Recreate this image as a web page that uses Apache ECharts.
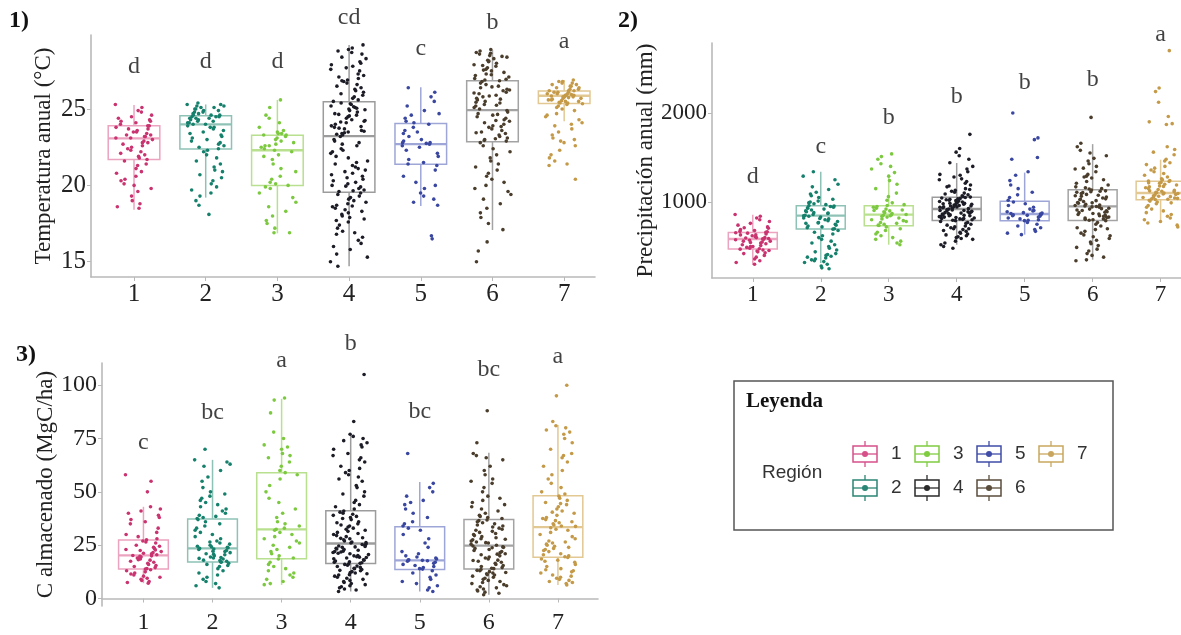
<!DOCTYPE html>
<html><head><meta charset="utf-8">
<script src="https://cdn.jsdelivr.net/npm/echarts@6/dist/echarts.min.js"></script>
<style>html,body{margin:0;padding:0;background:#fff}#c{width:1181px;height:635px}</style>
</head><body><div id="c"></div>
<script>
// ---------- DATA ----------
const regions = ['1','2','3','4','5','6','7'];
const panelTags = ['1)','2)','3)'];
const axisTitles = ['Temperatura anual (°C)','Precipitación anual (mm)','C almacenado (MgC/ha)'];
const tempTicks = [15,20,25];
const precTicks = [1000,2000];
const carbTicks = [0,25,50,75,100];

// box stats: [low whisker, q1, median, q3, high whisker]
const tempBoxes = [
  [18.4,21.7,23.08,23.9,25.26],[19.2,22.38,24.0,24.56,25.3],[16.86,20.0,22.3,23.28,25.6],
  [14.7,19.55,23.23,25.48,29.2],[18.65,21.38,22.7,24.06,26.42],[17.08,22.86,24.93,26.86,28.86],
  [24.2,25.37,25.87,26.18,26.9]];
const precBoxes = [
  [296,472,584,658,857],[315,697,846,958,1340],[520,734,857,958,1288],
  [520,793,921,1052,1438],[633,790,865,1007,1330],[352,793,951,1138,1650],
  [764,1026,1101,1232,1475]];
const carbBoxes = [
  [7.2,13.8,20.2,27.4,43],[5,17.1,23.5,37.3,65],[6.4,18.7,32.4,59,93.6],
  [3.3,16.4,25.8,41.1,76.8],[3.3,13.6,17.9,33.6,54.6],[1.8,13.8,24.8,37,68.3],
  [6.4,19.4,33.5,48.2,81.3]];

const tempLetters = ['d','d','d','cd','c','b','a'];
const tempLetterY = [27.75,28.08,28.08,31.0,28.93,30.63,29.39];
const precLetters = ['d','c','b','b','b','b','a'];
const precLetterY = [1284,1621,1947,2183,2340,2374,2880];
const carbLetters = ['c','bc','a','b','bc','bc','a'];
const carbLetterY = [72.9,87,111.6,119.6,87.8,107.3,113.2];

const tempR1 = [25.3,25.1,24.9,24.8,24.6,24.5,24.4,24.3,24.2,24.2,24.1,24.0,23.9,23.9,23.8,23.7,23.7,23.6,23.5,23.5,23.4,23.3,23.3,23.2,23.2,23.1,23.1,23.0,22.9,22.8,22.8,22.7,22.6,22.5,22.4,22.3,22.2,22.1,22.0,21.9,21.8,21.7,21.6,21.4,21.3,21.1,20.9,20.8,20.6,20.4,20.3,20.1,20.0,19.8,19.6,19.3,19.0,18.8,18.6,18.5];
const tempR2 = [25.4,25.3,25.3,25.2,25.2,25.1,25.1,25.0,25.0,24.9,24.9,24.8,24.8,24.7,24.7,24.6,24.6,24.6,24.5,24.5,24.5,24.4,24.4,24.4,24.3,24.3,24.2,24.2,24.1,24.1,24.0,24.0,23.9,23.8,23.8,23.7,23.6,23.5,23.4,23.3,23.2,23.1,23.0,22.9,22.8,22.7,22.6,22.5,22.4,22.3,22.2,22.0,21.8,21.6,21.4,21.2,21.0,20.9,20.7,20.5,20.3,20.1,19.9,19.7,19.5,19.3,19.0,18.7,18.1];
const tempR3 = [25.6,25.1,24.6,24.4,24.1,23.8,23.6,23.5,23.4,23.3,23.3,23.2,23.1,23.0,22.9,22.8,22.7,22.6,22.5,22.4,22.3,22.2,22.0,21.7,21.4,21.1,20.9,20.6,20.4,20.2,20.1,20.0,19.8,19.5,19.2,18.9,18.6,18.3,18.0,17.7,17.5,17.2,16.9,16.9,19.9,21.9,22.6,23.4];
const tempR4 = [29.2,29.0,28.9,28.7,28.6,28.4,28.3,28.1,28.0,27.9,27.7,27.6,27.5,27.3,27.2,27.1,27.0,26.9,26.8,26.7,26.6,26.5,26.4,26.3,26.2,26.1,26.0,25.9,25.8,25.7,25.6,25.5,27.8,26.85,28.8,
  25.4,25.3,25.2,25.1,25.0,24.9,24.8,24.7,24.6,24.5,24.4,24.3,24.2,24.1,24.0,23.9,23.8,23.7,23.6,23.5,23.4,23.3,25.35,24.95,24.55,24.15,23.75,23.45,25.05,24.65,24.25,23.85,23.55,23.35,25.15,
  23.2,23.0,22.9,22.7,22.6,22.4,22.2,22.1,21.9,21.8,21.6,21.5,21.3,21.2,21.0,20.9,20.7,20.6,20.4,20.3,20.1,20.0,19.9,19.8,19.7,19.6,21.1,20.5,22.3,19.95,20.2,21.4,22.8,20.8,19.65,
  19.5,19.4,19.3,19.2,19.1,19.0,18.9,18.8,18.7,18.6,18.5,18.4,18.3,18.2,18.1,18.0,17.9,17.8,17.6,17.4,17.2,17.0,16.9,16.8,16.6,16.4,16.2,16.0,15.8,15.5,15.3,15.0,14.7,18.65,17.7];
const tempR5 = [26.4,26.1,25.8,25.5,25.2,24.9,24.6,24.4,24.2,24.1,24.0,23.8,23.6,23.4,23.2,23.0,22.9,22.8,22.75,22.7,22.6,22.5,22.3,22.1,21.9,21.7,21.5,21.4,21.3,21.0,20.6,20.2,20.0,19.8,19.5,19.3,19.1,18.9,18.7,16.7,16.5,22.8,23.5,24.7];
const tempR6 = [28.9,28.8,28.7,28.6,28.5,28.4,28.3,28.2,28.1,28.0,27.9,27.8,27.7,27.6,27.5,27.4,27.3,27.2,27.1,27.0,26.9,28.45,28.15,27.85,27.55,27.25,26.95,28.65,
  26.8,26.7,26.6,26.5,26.4,26.3,26.2,26.1,26.0,25.9,25.8,25.7,25.6,25.5,25.4,25.3,25.2,25.1,25.0,26.45,26.05,25.65,25.25,26.85,26.25,25.85,25.45,
  24.9,24.8,24.7,24.6,24.5,24.4,24.3,24.2,24.1,24.0,23.9,23.8,23.7,23.6,23.5,23.4,23.3,23.2,23.1,23.0,22.9,24.65,24.25,23.85,23.45,23.05,22.95,
  22.8,22.6,22.4,22.2,22.0,21.8,21.6,21.4,21.2,21.0,20.8,20.6,20.4,20.2,20.0,19.8,19.6,19.4,19.1,18.8,18.5,18.2,17.9,17.5,17.1,16.3,15.7,15.0];
const tempR7 = [26.9,26.8,26.8,26.7,26.7,26.6,26.6,26.5,26.5,26.4,26.4,26.3,26.3,26.2,26.2,26.2,26.1,26.1,26.1,26.0,26.0,26.0,25.95,25.9,25.9,25.9,25.85,25.8,25.8,25.8,25.75,25.7,25.7,25.65,25.6,25.6,25.55,25.5,25.5,25.45,25.4,25.4,25.35,25.3,25.2,25.1,25.0,24.9,
  24.7,24.5,24.3,24.1,23.9,23.7,23.5,23.3,23.1,22.9,22.6,22.3,22.0,21.8,21.6,21.4,21.3,20.4,24.0,23.0,24.6,22.8];

const precR1 = [860,840,820,800,780,760,740,720,705,690,680,670,665,660,655,650,640,630,620,610,600,595,590,585,580,575,570,560,550,540,530,520,510,500,490,480,475,470,460,450,440,430,420,400,380,360,340,320,300,710,630,560,500,455,600,545];
const precR2 = [1340,1290,1250,1200,1170,1140,1110,1090,1070,1050,1030,1010,1000,990,980,970,960,955,950,940,930,920,910,900,890,880,870,860,850,845,840,830,820,810,800,790,780,770,760,750,740,730,720,710,700,695,680,660,640,620,600,580,560,540,520,500,480,460,440,420,410,400,390,380,370,360,350,340,330,320,300,280,260,250,935,875,815,765];
const precR3 = [1540,1510,1480,1430,1400,1370,1330,1290,1240,1200,1150,1100,1060,1020,990,970,960,950,940,930,920,910,900,890,880,870,860,855,850,840,830,820,810,800,790,780,770,760,750,740,735,720,700,680,660,640,620,600,580,560,540,520,905,845];
const precR4 = [1760,1600,1560,1520,1480,1440,1400,1370,1340,1310,1280,1250,1230,1210,1190,1170,1150,1130,1120,1110,1100,1090,1080,1070,1060,1055,1180,1140,1260,1300,
  1050,1045,1040,1030,1025,1020,1010,1005,1000,995,990,985,980,975,970,965,960,955,950,945,940,935,930,925,1015,985,955,1035,975,945,
  920,915,910,905,900,895,890,885,880,875,870,865,860,855,850,845,840,835,830,825,820,815,810,805,800,795,905,875,845,815,
  790,780,770,760,750,740,730,720,710,700,690,680,670,660,650,640,630,620,610,600,590,580,560,540,520,500,480,700];
const precR5 = [2000,1720,1700,1500,1480,1340,1300,1240,1190,1150,1110,1080,1050,1020,1000,980,960,940,920,900,890,880,870,865,860,855,850,845,840,830,820,810,800,795,790,770,750,730,710,690,670,650,633,875,905];
const precR6 = [1950,1660,1620,1580,1550,1520,1490,1460,1430,1400,1370,1340,1310,1290,1270,1250,1230,1210,1190,1170,1160,1150,1145,1380,1280,
  1135,1125,1115,1105,1095,1085,1075,1065,1055,1045,1035,1025,1015,1005,995,985,975,965,955,1110,1070,1030,990,960,1120,
  950,940,930,920,910,900,890,880,870,860,850,840,830,820,810,800,795,945,925,905,885,865,845,825,805,
  790,770,750,730,710,690,670,650,630,610,590,570,550,530,510,490,470,450,420,400,380,350,340,700,620];
const precR7 = [2700,2280,2240,2120,1960,1900,1880,1870,1620,1590,1560,1530,1480,1460,1440,1420,1400,1380,1360,1340,1320,1300,1280,1260,1250,1240,1235,1230,1220,1210,1200,1190,1180,1170,1160,1150,1140,1130,1120,1110,1105,1100,1095,1090,1080,1070,1065,1060,1055,1050,1045,1040,1035,1030,1028,1020,1010,1000,990,980,960,940,920,900,880,860,840,820,800,780,764,740,720,1125,1175,1215,1085,1115];

const carbR1 = [58,55,50,43,42,41,40,39,38,37,36,35,33,31,30,29,28,27.5,27,26.5,26,25,24.5,24,23.5,23,22.5,22,21.5,21,20.5,20.2,20,19.5,19,18.5,18,17.5,17,16.5,16,15.5,15,14.5,14,13.8,13.5,13,12.5,12,11.5,11,10.5,10,9.5,9,8.5,8,7.5,7.2,19.8,18.2,21.2,22.8];
const carbR2 = [70,65,64,63,62,60,57,55,52,50,49,48,47,46,45,44,43,42,41,40,39,38.5,38,37.5,37,36,35,34,33,32,31,30,29,28,27,26,25.5,25,24.5,24,23.8,23.5,23.2,23,22.5,22,21.5,21,20.5,20,19.5,19,18.5,18,17.5,17.2,17,16.5,16,15.5,15,14,13,12,11,10,9,8,7,6,5,22.2,20.8,19.2,18.8,17.8,24.2,26.5];
const carbR3 = [94,93,87,78,75,72,71,70,68,67,66,64,62,60,59,58,56,53,50,47,45,42,40,38,36,35,34,33,32.5,32,31,30,29,28,27,26,25,24,23,22,21,20,19,18.5,17,16,15,14,13,12,11,10,9,8,7,6.5];
const carbR4 = [105,83,77,76,75,74,73,72,71,70,68,67,66,65,64,62,61,60,59,58,57,56,55,53,52,50,49,48,46,45,44,43,42,
  41,40.5,40,39.5,39,38.5,38,37,36,35.5,35,34,33.5,33,32,31.5,31,30,29.5,29,28.5,28,27.5,27,26.5,26.2,26,37.5,34.5,32.5,30.5,28.2,
  25.6,25.3,25,24.6,24.2,24,23.6,23.2,23,22.6,22.2,22,21.6,21.2,21,20.6,20.2,20,19.6,19.2,19,18.6,18.2,18,17.6,17.2,17,16.8,16.5,24.4,21.8,19.4,
  16.3,16,15.6,15.2,15,14.6,14.2,14,13.6,13.2,13,12.6,12.2,12,11.6,11.2,11,10.5,10,9.5,9,8.5,8,7.5,7,6.5,6,5.5,5,4.5,4,3.3];
const carbR5 = [68,54,52,50,48,46,45,44,42,40,38,36,35,34,33,32,30,28,26,24,22,21,20,19,18.5,18,17.9,17.5,17,16.5,16,15.5,15,14.5,14,13.8,13,12,11,10,9,8,7,6,5,4,3.3,18.2,17.7,19.5];
const carbR6 = [88,73,68,67,66,65,62,60,58,56,55,54,52,50,48,47,46,45,44,43,42,41,40,39,38.5,38,37.5,
  36.8,36.5,36,35.5,35,34.5,34,33,32.5,32,31.5,31,30,29.5,29,28.5,28,27.5,27,26.5,26,25.5,25,33.5,30.5,27.8,26.2,
  24.6,24.2,24,23.5,23,22.5,22,21.5,21,20.5,20,19.5,19,18.5,18,17.5,17,16.5,16,15.5,15,14.5,14,23.8,20.8,17.8,14.2,
  13.6,13.2,13,12.6,12.2,12,11.6,11.2,11,10.5,10,9.5,9,8.5,8,7.5,7,6.5,6,5.5,5,4.5,4,3.5,3,2.5,1.8];
const carbR7 = [100,95,83,81,80,79,78,77,75,73,70,68,67,66,64,62,60,58,56,54,52,50,49,
  48,47,46,45,44,43,42,41,40,39,38,37.5,37,36.5,36,35.5,35,34.5,34,33.8,44.5,40.5,
  33.2,32.5,32,31,30,29,28,27,26.5,26,25.5,25,24.5,24,23.5,23,22.5,22,21,20.5,20,19.6,
  19.2,18.5,18,17.5,17,16,15,14,13.5,13,12.5,12,11,10.5,10,9.5,9,8.5,8,7.5,7,6.4];

const tempPoints = [tempR1,tempR2,tempR3,tempR4,tempR5,tempR6,tempR7];
const precPoints = [precR1,precR2,precR3,precR4,precR5,precR6,precR7];
const carbPoints = [carbR1,carbR2,carbR3,carbR4,carbR5,carbR6,carbR7];

// ---------- STYLE ----------
const pointColors = ['#c93470','#15806b','#7cc940','#1c1c26','#3a47a0','#4a3d2c','#c49a48'];
const boxColors   = ['#eca3bf','#8fc2b6','#b8e08e','#9c9c9c','#9ea6d8','#a3a3a3','#e2c893'];
const legendColors= ['#d6508a','#2a8574','#80cc40','#2a2a2a','#3f4ca8','#5a4d3c','#c9a65e'];
const SERIF = '"Liberation Serif","Times New Roman",serif';
const SANS  = '"Liberation Sans",Arial,sans-serif';

const panels = [
  {boxes:tempBoxes, pts:tempPoints, letters:tempLetters, letterY:tempLetterY, ticks:tempTicks,
   grid:{left:91,top:35,width:504,height:242}, xmax:7.43, ymin:14.0, ymax:29.85, fs:25, nameGap:36},
  {boxes:precBoxes, pts:precPoints, letters:precLetters, letterY:precLetterY, ticks:precTicks,
   grid:{left:712,top:43,width:469,height:235}, xmax:7.3, ymin:146, ymax:2786, fs:23, nameGap:54},
  {boxes:carbBoxes, pts:carbPoints, letters:carbLetters, letterY:carbLetterY, ticks:carbTicks,
   grid:{left:102,top:363,width:496,height:249}, xmax:7.58, ymin:-3.5, ymax:110.4, fs:24, nameGap:41}
];

const cats = regions.map(r => Number(r));
// deterministic horizontal jitter (quadratic Weyl sequence), position only
function jitter(i, g){
  const f = (i*0.618034 + i*i*0.0937 + g*0.291) % 1;
  return (f - 0.5) * 0.52;
}

const grids=[], xAxes=[], yAxes=[], series=[];
const axisGray = '#b9b9b9';
panels.forEach((p, k) => {
  grids.push(Object.assign({containLabel:false}, p.grid));
  xAxes.push({type:'value', gridIndex:k, min:0.4, max:p.xmax,
    axisLine:{show:true, lineStyle:{color:axisGray, width:1.6}},
    axisTick:{show:true, customValues:cats, length:4, lineStyle:{color:axisGray}},
    axisLabel:{customValues:cats, margin:5, color:'#222', fontFamily:SERIF, fontSize:p.fs},
    splitLine:{show:false}});
  yAxes.push({type:'value', gridIndex:k, min:p.ymin, max:p.ymax,
    name:axisTitles[k], nameLocation:'middle', nameGap:p.nameGap,
    nameTextStyle:{fontFamily:SERIF, fontSize:23, color:'#222'},
    axisLine:{show:true, lineStyle:{color:axisGray, width:1.6}},
    axisTick:{show:true, customValues:p.ticks, length:4, lineStyle:{color:axisGray}},
    axisLabel:{customValues:p.ticks, margin:5, color:'#222', fontFamily:SERIF, fontSize:p.fs,
      formatter: v => String(v)},
    splitLine:{show:false}});
  // boxes
  series.push({type:'custom', xAxisIndex:k, yAxisIndex:k, z:1, silent:true,
    data: p.boxes.map((b,i) => [cats[i], b[0], b[1], b[2], b[3], b[4]]),
    encode:{x:0, y:[1,2,3,4,5]},
    renderItem:function(params, api){
      const x = api.value(0), hw = 0.36;
      const lo=api.value(1), q1=api.value(2), md=api.value(3), q3=api.value(4), hi=api.value(5);
      const tl = api.coord([x-hw, q3]), br = api.coord([x+hw, q1]);
      const m = api.coord([x, md]), ph = api.coord([x, hi]), pl = api.coord([x, lo]);
      const c = boxColors[params.dataIndex];
      return {type:'group', children:[
        {type:'line', shape:{x1:ph[0],y1:ph[1],x2:ph[0],y2:tl[1]}, style:{stroke:c,lineWidth:1.5}},
        {type:'line', shape:{x1:pl[0],y1:br[1],x2:pl[0],y2:pl[1]}, style:{stroke:c,lineWidth:1.5}},
        {type:'rect', shape:{x:tl[0],y:tl[1],width:br[0]-tl[0],height:br[1]-tl[1]}, style:{stroke:c,lineWidth:1.5,fill:'rgba(255,255,255,0)'}},
        {type:'line', shape:{x1:tl[0],y1:m[1],x2:br[0],y2:m[1]}, style:{stroke:c,lineWidth:2.3}}
      ]};
    }});
  // jittered points
  p.pts.forEach((vals, g) => {
    series.push({type:'scatter', xAxisIndex:k, yAxisIndex:k, z:3, silent:true,
      symbolSize:3.6, itemStyle:{color:pointColors[g], opacity:1},
      data: vals.map((v,i) => [cats[g] + jitter(i,g), v])});
  });
  // significance letters
  series.push({type:'scatter', xAxisIndex:k, yAxisIndex:k, z:4, silent:true, clip:false,
    symbolSize:0.1, itemStyle:{color:'rgba(0,0,0,0)'},
    data: p.letters.map((l,i) => [cats[i], p.letterY[i], l]),
    label:{show:true, position:'inside', formatter:q => q.value[2],
      fontFamily:SERIF, fontSize:24, color:'#111'}});
});

// panel tags and legend (graphic)
const graphic = [
  {type:'text', left:9, top:9, style:{text:panelTags[0], font:'bold 24px '+SERIF, fill:'#111'}},
  {type:'text', left:618, top:9, style:{text:panelTags[1], font:'bold 24px '+SERIF, fill:'#111'}},
  {type:'text', left:16, top:343, style:{text:panelTags[2], font:'bold 24px '+SERIF, fill:'#111'}},
  {type:'rect', shape:{x:734, y:381, width:379, height:149}, style:{fill:'#fff', stroke:'#555', lineWidth:1.5}},
  {type:'text', x:746, y:402, style:{text:'Leyenda', font:'bold 21px '+SERIF, fill:'#111', textVerticalAlign:'middle'}},
  {type:'text', x:762, y:473, style:{text:'Región', font:'19px '+SANS, fill:'#333', textVerticalAlign:'middle'}}
];
regions.forEach((r, i) => {
  const col = Math.floor(i/2), row = i % 2;
  const cx = 865 + col*62, cy = 454 + row*34, c = legendColors[i];
  graphic.push(
    {type:'line', shape:{x1:cx,y1:cy-13,x2:cx,y2:cy-8}, style:{stroke:c, lineWidth:1.3}},
    {type:'line', shape:{x1:cx,y1:cy+8,x2:cx,y2:cy+13}, style:{stroke:c, lineWidth:1.3}},
    {type:'rect', shape:{x:cx-12,y:cy-8,width:24,height:16}, style:{fill:'#fff', stroke:c, lineWidth:1.5}},
    {type:'line', shape:{x1:cx-12,y1:cy,x2:cx+12,y2:cy}, style:{stroke:c, lineWidth:1.3}},
    {type:'circle', shape:{cx:cx, cy:cy, r:3}, style:{fill:c}},
    {type:'text', x:cx+26, y:cy, style:{text:r, font:'19px '+SANS, fill:'#333', textVerticalAlign:'middle'}}
  );
});

const chart = echarts.init(document.getElementById('c'), null, {renderer:'canvas'});
chart.setOption({animation:false, backgroundColor:'#fff', grid:grids, xAxis:xAxes, yAxis:yAxes, series:series, graphic:graphic});
</script></body></html>
